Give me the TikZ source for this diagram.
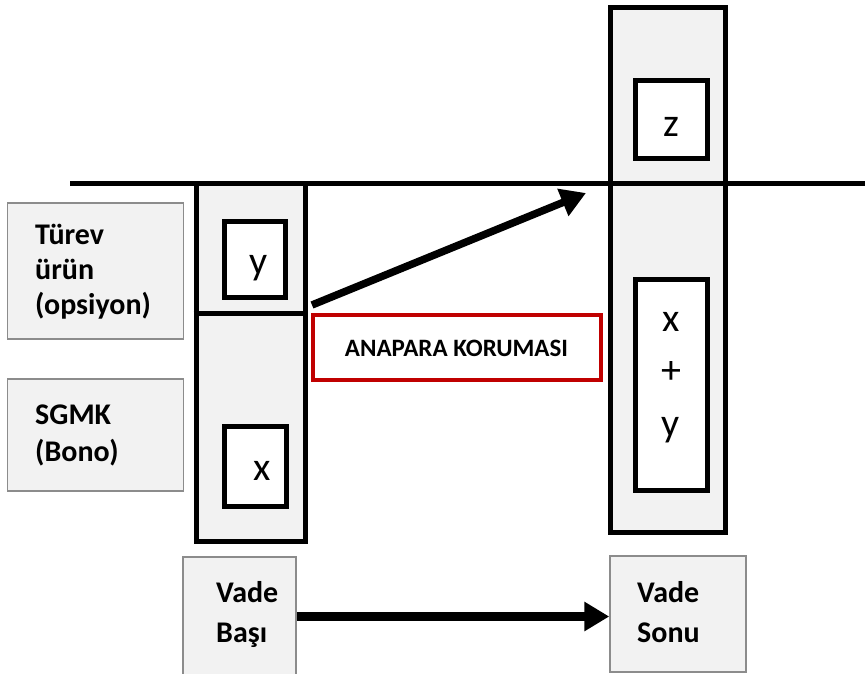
\documentclass[tikz,border=0pt]{standalone}
\usepackage{fontspec}
\setmainfont{Carlito}
\usetikzlibrary{arrows.meta}
\definecolor{boxgray}{HTML}{F2F2F2}
\definecolor{edgegray}{HTML}{8C8C8C}
\definecolor{darkred}{HTML}{C00000}
\begin{document}
\begin{tikzpicture}[x=1pt,y=-1pt,
  col/.style={draw=black, line width=5pt, fill=boxgray, rectangle, inner sep=0pt},
  inbox/.style={draw=black, line width=5pt, fill=white, rectangle, inner sep=0pt},
  lbl/.style={draw=edgegray, line width=1.5pt, fill=boxgray, rectangle, inner sep=0pt},
  lbltext/.style={font=\bfseries\fontsize{30}{35}\selectfont, align=left, inner sep=0pt, anchor=base west},
  vadetext/.style={font=\bfseries\fontsize{30}{40}\selectfont, align=left, inner sep=0pt, anchor=base west},
  var/.style={font=\fontsize{40}{52.5}\selectfont, inner sep=0pt, anchor=base, align=center},
  thickline/.style={line width=5pt},
  bigarrow/.style={line width=#1, -{Triangle[length=25pt,width=28pt]}}
]
\useasboundingbox (0,0) rectangle (865,673);
\clip (0,0) rectangle (865,673);

% left label boxes
\node[lbl, minimum width=176pt, minimum height=136pt] (turevbox) at (95.5,271) {};
\node[lbltext] (turev) at (35,314) {Türev\\ürün\\(opsiyon)};
\node[lbl, minimum width=176pt, minimum height=112pt] (sgmkbox) at (95.5,435) {};
\node[lbltext, font=\bfseries\fontsize{30}{37}\selectfont] (sgmk) at (35,461) {SGMK\\(Bono)};

% left column
\node[col, minimum width=109pt, minimum height=358.5pt] (lcol) at (250.5,362.25) {};
\draw[thickline] (lcol.west |- 0,313) coordinate (dl) -- (lcol.east |- 0,313) coordinate (dr);
\node[inbox, minimum width=61pt, minimum height=76pt] (ybox) at (255,259.75) {};
\node[var] (ytxt) at (259,274) {y};
\node[inbox, minimum width=62pt, minimum height=80pt] (xbox) at (255.25,466) {};
\node[var] (xtxt) at (262,480) {x};

% right column
\node[col, minimum width=115pt, minimum height=525pt] (rcol) at (668,270) {};
\node[inbox, minimum width=72pt, minimum height=78pt] (zbox) at (671,119.5) {};
\node[var] (ztxt) at (671,136) {z};
\node[inbox, minimum width=72pt, minimum height=211pt] (xybox) at (671,385) {};
\node[var] (xytxt) at (671,436) {x\\+\\y};

% horizontal line
\coordinate (hl) at (70,183);
\coordinate (hr) at (865,183);
\draw[thickline] (hl) -- (hr);

% red box
\node[draw=darkred, line width=3.5pt, fill=white, minimum width=288pt, minimum height=65pt, inner sep=0pt] (anapara) at (457,347.5) {};
\node[font=\bfseries\fontsize{25}{30}\selectfont, inner sep=0pt, anchor=base] (anaparatxt) at (456.5,356) {ANAPARA KORUMASI};

% diagonal arrow
\coordinate (dstart) at (312,305);
\coordinate (dend) at (586,193);
\draw[bigarrow=7.5pt] (dstart) -- (dend);

% bottom boxes
\node[lbl, minimum width=113pt, minimum height=119pt] (vbasibox) at (239.5,616.5) {};
\node[vadetext] (vbasi) at (216,642) {Vade\\Başı};
\node[lbl, minimum width=136pt, minimum height=116pt] (vsonubox) at (678,614) {};
\node[vadetext] (vsonu) at (637,642) {Vade\\Sonu};

\draw[bigarrow=9pt] (vbasibox.east) -- (vbasibox.east -| vsonubox.west);
\end{tikzpicture}
\end{document}
